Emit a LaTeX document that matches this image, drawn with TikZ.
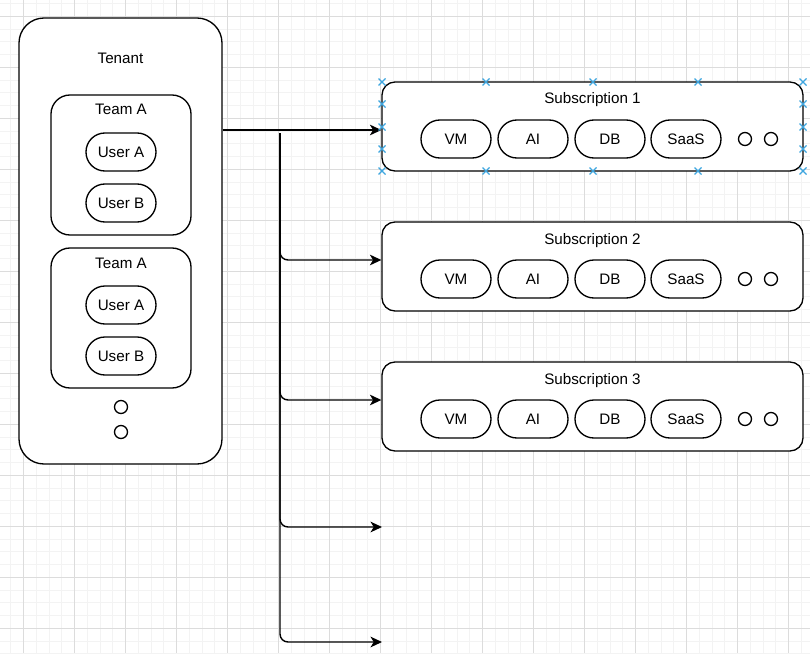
\documentclass[tikz,border=0pt]{standalone}
\usepackage{fontspec}
\setmainfont{Liberation Sans}
\usetikzlibrary{arrows.meta}
\newdimen\pxu \pxu=0.75pt
\definecolor{gridminor}{RGB}{243,243,243}
\definecolor{gridmajor}{RGB}{220,220,220}
\definecolor{handle}{RGB}{62,166,224}
\begin{document}
\begin{tikzpicture}[x=0.75pt,y=-0.75pt,
  font=\fontsize{11.4}{13}\selectfont,
  box/.style={draw, line width=1pt, fill=white, inner sep=0pt},
  pill/.style={box, minimum width=70\pxu, minimum height=38\pxu, rounded corners=18.9\pxu},
  teambox/.style={box, minimum width=140\pxu, minimum height=140\pxu, rounded corners=19\pxu},
  subbox/.style={box, minimum width=421\pxu, minimum height=89\pxu, rounded corners=13\pxu},
  dot/.style={draw, line width=1pt, circle, inner sep=0pt, minimum size=13\pxu},
  lbl/.style={inner sep=0pt},
  conn/.style={draw, line width=1.05pt, -{Stealth[length=8.6pt, width=8pt, inset=2.4pt]}},
  handlemark/.style={draw=handle, line width=0.95pt}]
\useasboundingbox (0,0) rectangle (810,653);
\fill[white] (0,0) rectangle (810,653);
\begin{scope}
\clip (0,0) rectangle (810,653);
\foreach \i in {-2,...,63} {
  \pgfmathsetmacro\gx{23.67+12.75*\i}
  \draw[gridminor, line width=0.75pt] (\gx,0) -- (\gx,653);
}
\foreach \j in {-2,...,52} {
  \pgfmathsetmacro\gy{16.3+12.75*\j}
  \draw[gridminor, line width=0.75pt] (0,\gy) -- (810,\gy);
}
\foreach \i in {-1,...,16} {
  \pgfmathsetmacro\gx{23.67+51*\i}
  \draw[gridmajor, line width=0.75pt] (\gx,0) -- (\gx,653);
}
\foreach \j in {-1,...,13} {
  \pgfmathsetmacro\gy{16.3+51*\j}
  \draw[gridmajor, line width=0.75pt] (0,\gy) -- (810,\gy);
}
\end{scope}

% Tenant
\node[box, minimum width=203\pxu, minimum height=446\pxu, rounded corners=25\pxu] (tenant) at (120.5,241) {};
\node[lbl] (tenantlbl) at (120.5,58.5) {Tenant};
% Team 1
\node[teambox] (team1) at (121,165) {};
\node[lbl] (team1lbl) at (121,109.5) {Team A};
\node[pill] (userA1) at (121,152) {User A};
\node[pill] (userB1) at (121,203) {User B};
% Team 2
\node[teambox] (team2) at (121,318) {};
\node[lbl] (team2lbl) at (121,263.5) {Team A};
\node[pill] (userA2) at (121,305) {User A};
\node[pill] (userB2) at (121,356) {User B};
\node[dot] (tdot1) at (121,407) {};
\node[dot] (tdot2) at (121,432) {};

% Subscriptions
\foreach \n/\cy/\ty in {1/126.5/99.5, 2/266.5/240.5, 3/406.5/380.5} {
  \node[subbox] (sub\n) at (592.5,\cy) {};
  \node[lbl] (sub\n lbl) at (592.5,\ty) {Subscription \n};
  \pgfmathsetmacro\py{\cy+12.5}
  \node[pill] (vm\n) at (456,\py) {VM};
  \node[pill] (ai\n) at (533,\py) {AI};
  \node[pill] (db\n) at (610,\py) {DB};
  \node[pill] (saas\n) at (686,\py) {SaaS};
  \node[dot] (sdotA\n) at (745,\py) {};
  \node[dot] (sdotB\n) at (771,\py) {};
}

% Connectors
\coordinate (y1) at (0,130);
\coordinate (y2) at (0,260);
\coordinate (y3) at (0,400);
\coordinate (trunk) at (280,133);
\coordinate (e4) at (382,527);
\coordinate (e5) at (382,642);
\draw[conn] (tenant.east |- y1) -- (sub1.west |- y1);
\draw[conn, rounded corners=6pt] (trunk) |- (sub2.west |- y2);
\draw[conn, rounded corners=6pt] (trunk) |- (sub3.west |- y3);
\draw[conn, rounded corners=6pt] (trunk) |- (e4);
\draw[conn, rounded corners=6pt] (trunk) |- (e5);

% Selection handles on Subscription 1
\foreach \hx/\hy in {382/82, 486/82, 593/82, 698/82, 803/82,
                     382/171, 486/171, 593/171, 698/171, 803/171,
                     382/104, 382/127, 382/149, 803/104, 803/127, 803/149} {
  \draw[handlemark] (\hx-3.5,\hy-3.5) -- (\hx+3.5,\hy+3.5) (\hx-3.5,\hy+3.5) -- (\hx+3.5,\hy-3.5);
}
\end{tikzpicture}
\end{document}
